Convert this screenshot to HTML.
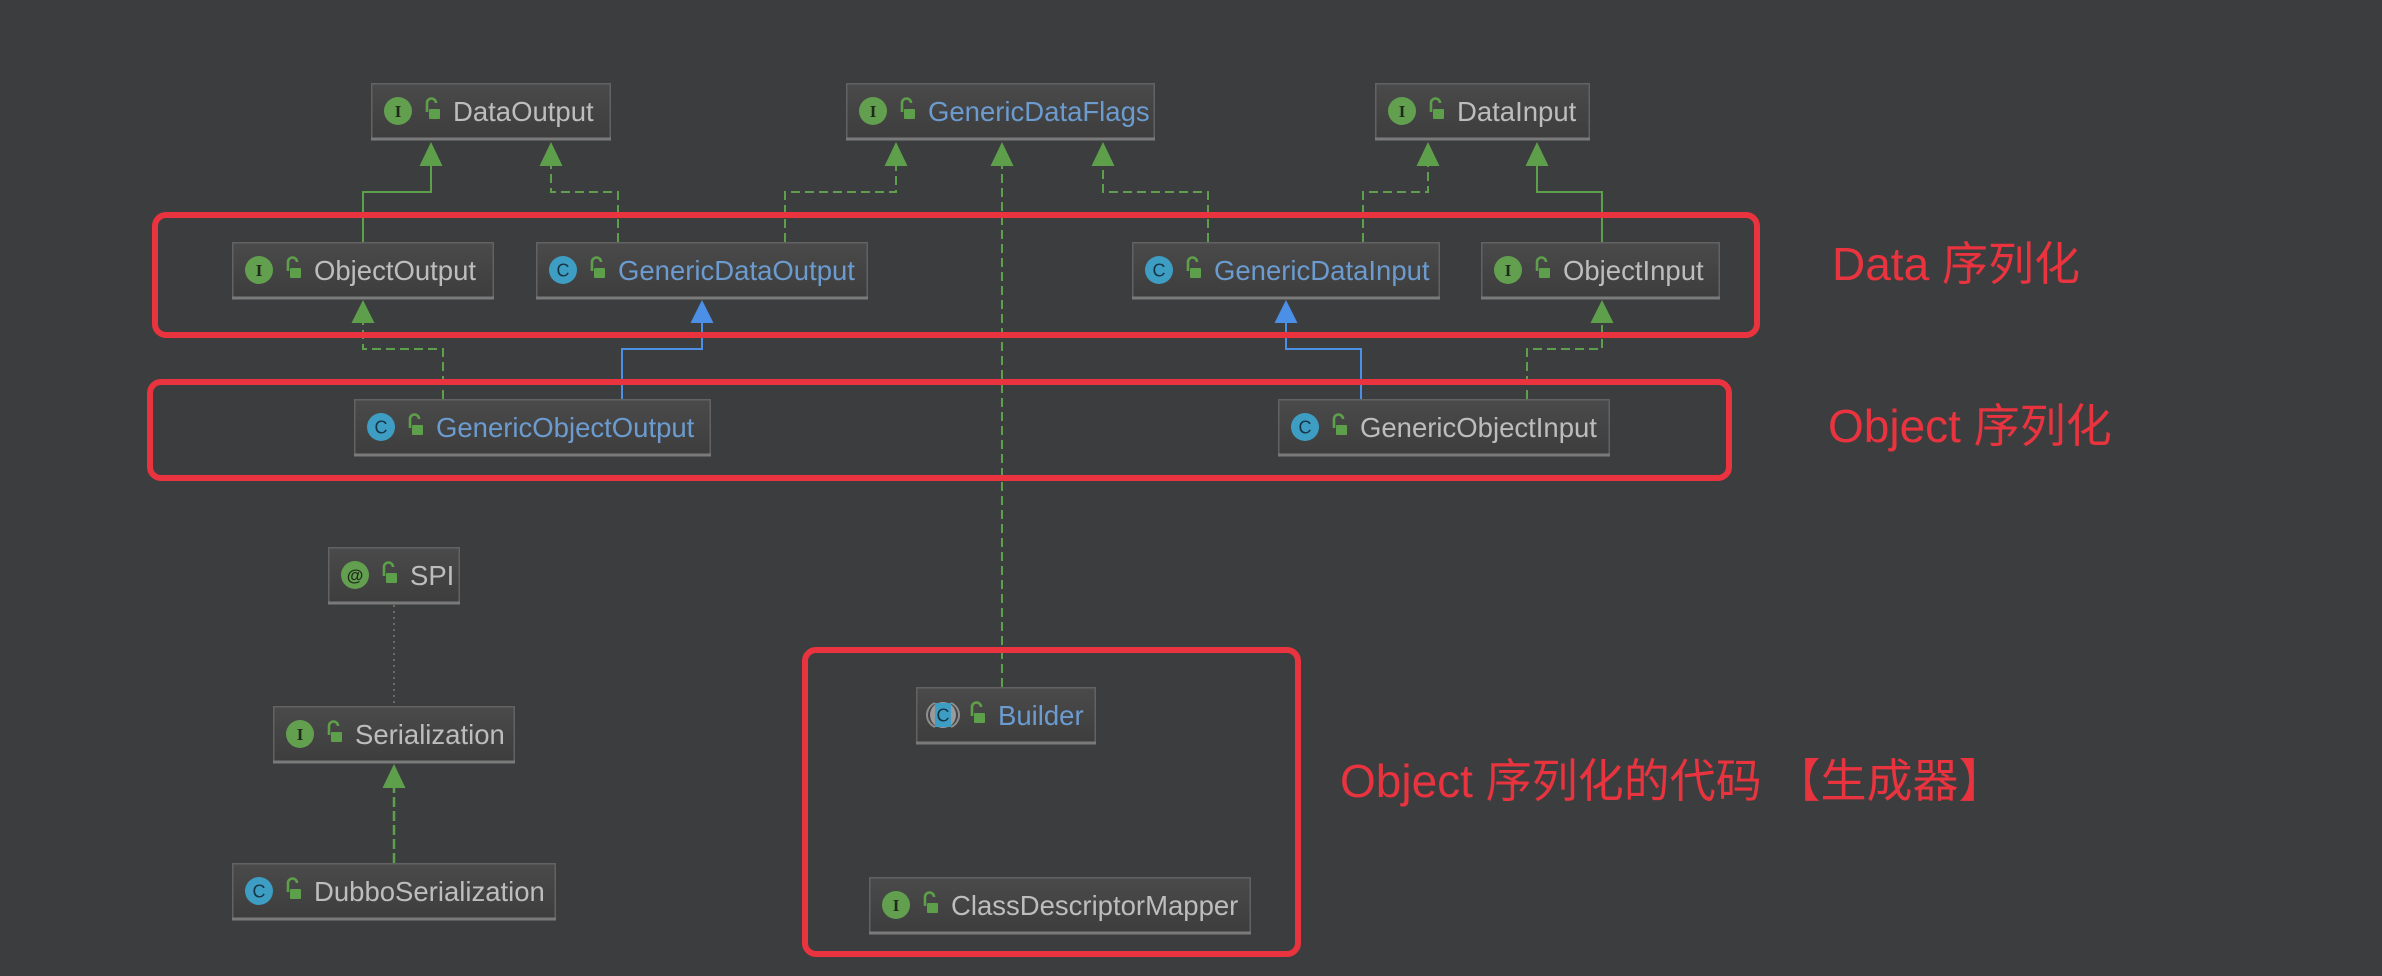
<!DOCTYPE html>
<html><head><meta charset="utf-8">
<style>
html,body{margin:0;padding:0;background:#3c3d3f;}
svg{display:block;}
.t{font-family:"Liberation Sans","Noto Sans CJK SC",sans-serif;font-size:27.5px;fill:#bdbdbd;}
.b{fill:#6b9bcf;}
.ic{font-family:"Liberation Serif",serif;font-size:17px;fill:#1f2a1c;text-anchor:middle;font-weight:bold;}
.icc{font-family:"Liberation Sans",sans-serif;font-size:18px;fill:#183447;text-anchor:middle;}
.lbl{font-family:"Liberation Sans","Noto Sans CJK SC",sans-serif;font-size:46px;fill:#e9343f;}
</style></head>
<body>
<svg width="2382" height="976" viewBox="0 0 2382 976" xmlns="http://www.w3.org/2000/svg">
<defs>
<linearGradient id="bg" x1="0" y1="0" x2="0" y2="1">
<stop offset="0" stop-color="#4a4a4a"/><stop offset="1" stop-color="#3d3d3d"/>
</linearGradient>
<g id="lock">
<path d="M56,29 V20 a4.5,4.5 0 0 1 9,0" fill="none" stroke="#5e9f4b" stroke-width="2.6"/>
<rect x="58" y="26" width="11" height="10" rx="1" fill="#5e9f4b"/>
</g>
<g id="icI"><circle cx="27" cy="28" r="14" fill="#62a04f"/><text x="27" y="34" class="ic">I</text></g>
<g id="icC"><circle cx="27" cy="28" r="14" fill="#3e9dc2"/><text x="27" y="34.5" class="icc">C</text></g>
</defs>

<rect width="2382" height="976" fill="#3c3d3f"/>

<!-- connectors -->
<g fill="none" stroke-width="2">
<path d="M363,242 V192 H431 V164" stroke="#5e9f4b"/>
<path d="M618,242 V192 H551 V164" stroke="#5e9f4b" stroke-dasharray="9 5"/>
<path d="M785,242 V192 H896 V164" stroke="#5e9f4b" stroke-dasharray="9 5"/>
<path d="M1002,687 V164" stroke="#5e9f4b" stroke-dasharray="9 5"/>
<path d="M1208,242 V192 H1103 V164" stroke="#5e9f4b" stroke-dasharray="9 5"/>
<path d="M1363,242 V192 H1428 V164" stroke="#5e9f4b" stroke-dasharray="9 5"/>
<path d="M1602,242 V192 H1537 V164" stroke="#5e9f4b"/>
<path d="M443,399 V349 H363 V321" stroke="#5e9f4b" stroke-dasharray="9 5"/>
<path d="M622,399 V349 H702 V321" stroke="#4b8fe6"/>
<path d="M1361,399 V349 H1286 V321" stroke="#4b8fe6"/>
<path d="M1527,399 V349 H1602 V321" stroke="#5e9f4b" stroke-dasharray="9 5"/>
<path d="M394,605 V706" stroke="#6a6a6a" stroke-dasharray="2 4"/>
<path d="M394,863 V786" stroke="#5e9f4b" stroke-width="2.5" stroke-dasharray="10 4"/>
</g>
<!-- arrowheads -->
<g fill="#5e9f4b">
<polygon points="431,142 419.5,166 442.5,166"/>
<polygon points="551,142 539.5,166 562.5,166"/>
<polygon points="896,142 884.5,166 907.5,166"/>
<polygon points="1002,142 990.5,166 1013.5,166"/>
<polygon points="1103,142 1091.5,166 1114.5,166"/>
<polygon points="1428,142 1416.5,166 1439.5,166"/>
<polygon points="1537,142 1525.5,166 1548.5,166"/>
<polygon points="363,300 351.5,323 374.5,323"/>
<polygon points="1602,300 1590.5,323 1613.5,323"/>
<polygon points="394,764 382.5,788 405.5,788"/>
</g>
<g fill="#4b8fe6">
<polygon points="702,300 690.5,323 713.5,323"/>
<polygon points="1286,300 1274.5,323 1297.5,323"/>
</g>

<!-- nodes -->
<g transform="translate(371,83)">
<rect x="0.75" y="0.75" width="238.5" height="55.5" fill="url(#bg)" stroke="#626262" stroke-width="1.5"/>
<line x1="0" y1="56" x2="240" y2="56" stroke="#7a7a7a" stroke-width="3"/>
<use href="#icI"/><use href="#lock"/><text x="82" y="38" class="t">DataOutput</text></g>

<g transform="translate(846,83)">
<rect x="0.75" y="0.75" width="307.5" height="55.5" fill="url(#bg)" stroke="#626262" stroke-width="1.5"/>
<line x1="0" y1="56" x2="309" y2="56" stroke="#7a7a7a" stroke-width="3"/>
<use href="#icI"/><use href="#lock"/><text x="82" y="38" class="t b">GenericDataFlags</text></g>

<g transform="translate(1375,83)">
<rect x="0.75" y="0.75" width="213.5" height="55.5" fill="url(#bg)" stroke="#626262" stroke-width="1.5"/>
<line x1="0" y1="56" x2="215" y2="56" stroke="#7a7a7a" stroke-width="3"/>
<use href="#icI"/><use href="#lock"/><text x="82" y="38" class="t">DataInput</text></g>

<g transform="translate(232,242)">
<rect x="0.75" y="0.75" width="260.5" height="55.5" fill="url(#bg)" stroke="#626262" stroke-width="1.5"/>
<line x1="0" y1="56" x2="262" y2="56" stroke="#7a7a7a" stroke-width="3"/>
<use href="#icI"/><use href="#lock"/><text x="82" y="38" class="t">ObjectOutput</text></g>

<g transform="translate(536,242)">
<rect x="0.75" y="0.75" width="330.5" height="55.5" fill="url(#bg)" stroke="#626262" stroke-width="1.5"/>
<line x1="0" y1="56" x2="332" y2="56" stroke="#7a7a7a" stroke-width="3"/>
<use href="#icC"/><use href="#lock"/><text x="82" y="38" class="t b">GenericDataOutput</text></g>

<g transform="translate(1132,242)">
<rect x="0.75" y="0.75" width="306.5" height="55.5" fill="url(#bg)" stroke="#626262" stroke-width="1.5"/>
<line x1="0" y1="56" x2="308" y2="56" stroke="#7a7a7a" stroke-width="3"/>
<use href="#icC"/><use href="#lock"/><text x="82" y="38" class="t b">GenericDataInput</text></g>

<g transform="translate(1481,242)">
<rect x="0.75" y="0.75" width="237.5" height="55.5" fill="url(#bg)" stroke="#626262" stroke-width="1.5"/>
<line x1="0" y1="56" x2="239" y2="56" stroke="#7a7a7a" stroke-width="3"/>
<use href="#icI"/><use href="#lock"/><text x="82" y="38" class="t">ObjectInput</text></g>

<g transform="translate(354,399)">
<rect x="0.75" y="0.75" width="355.5" height="55.5" fill="url(#bg)" stroke="#626262" stroke-width="1.5"/>
<line x1="0" y1="56" x2="357" y2="56" stroke="#7a7a7a" stroke-width="3"/>
<use href="#icC"/><use href="#lock"/><text x="82" y="38" class="t b">GenericObjectOutput</text></g>

<g transform="translate(1278,399)">
<rect x="0.75" y="0.75" width="330.5" height="55.5" fill="url(#bg)" stroke="#626262" stroke-width="1.5"/>
<line x1="0" y1="56" x2="332" y2="56" stroke="#7a7a7a" stroke-width="3"/>
<use href="#icC"/><use href="#lock"/><text x="82" y="38" class="t">GenericObjectInput</text></g>

<g transform="translate(328,547)">
<rect x="0.75" y="0.75" width="130.5" height="55.5" fill="url(#bg)" stroke="#626262" stroke-width="1.5"/>
<line x1="0" y1="56" x2="132" y2="56" stroke="#7a7a7a" stroke-width="3"/>
<circle cx="27" cy="28" r="14" fill="#62a04f"/><text x="27" y="34" class="icc" style="fill:#1f2a1c;font-size:17px;font-weight:bold">@</text>
<use href="#lock"/><text x="82" y="38" class="t">SPI</text></g>

<g transform="translate(273,706)">
<rect x="0.75" y="0.75" width="240.5" height="55.5" fill="url(#bg)" stroke="#626262" stroke-width="1.5"/>
<line x1="0" y1="56" x2="242" y2="56" stroke="#7a7a7a" stroke-width="3"/>
<use href="#icI"/><use href="#lock"/><text x="82" y="38" class="t">Serialization</text></g>

<g transform="translate(232,863)">
<rect x="0.75" y="0.75" width="322.5" height="55.5" fill="url(#bg)" stroke="#626262" stroke-width="1.5"/>
<line x1="0" y1="56" x2="324" y2="56" stroke="#7a7a7a" stroke-width="3"/>
<use href="#icC"/><use href="#lock"/><text x="82" y="38" class="t">DubboSerialization</text></g>

<g transform="translate(916,687)">
<rect x="0.75" y="0.75" width="178.5" height="55.5" fill="url(#bg)" stroke="#626262" stroke-width="1.5"/>
<line x1="0" y1="56" x2="180" y2="56" stroke="#7a7a7a" stroke-width="3"/>
<circle cx="27" cy="28" r="13" fill="#9a9a9a"/>
<rect x="19" y="16" width="16" height="24" fill="#3e9dc2"/>
<path d="M19,16 a13,13 0 0 0 0,24" fill="none" stroke="#8d8d8d" stroke-width="2"/>
<path d="M35,16 a13,13 0 0 1 0,24" fill="none" stroke="#8d8d8d" stroke-width="2"/>
<text x="27" y="34.5" class="icc">C</text>
<use href="#lock"/><text x="82" y="38" class="t b">Builder</text></g>

<g transform="translate(869,877)">
<rect x="0.75" y="0.75" width="380.5" height="55.5" fill="url(#bg)" stroke="#626262" stroke-width="1.5"/>
<line x1="0" y1="56" x2="382" y2="56" stroke="#7a7a7a" stroke-width="3"/>
<use href="#icI"/><use href="#lock"/><text x="82" y="38" class="t">ClassDescriptorMapper</text></g>

<!-- red highlight boxes -->
<g fill="none" stroke="#e9343f" stroke-width="6">
<rect x="155" y="215" width="1602" height="120" rx="11"/>
<rect x="150" y="382" width="1579" height="96" rx="11"/>
<rect x="805" y="650" width="493" height="304" rx="11"/>
</g>

<!-- labels -->
<text x="1832" y="280" class="lbl">Data 序列化</text>
<text x="1828" y="442" class="lbl">Object 序列化</text>
<text x="1340" y="797" class="lbl">Object 序列化的代码 【生成器】</text>
</svg>
</body></html>
